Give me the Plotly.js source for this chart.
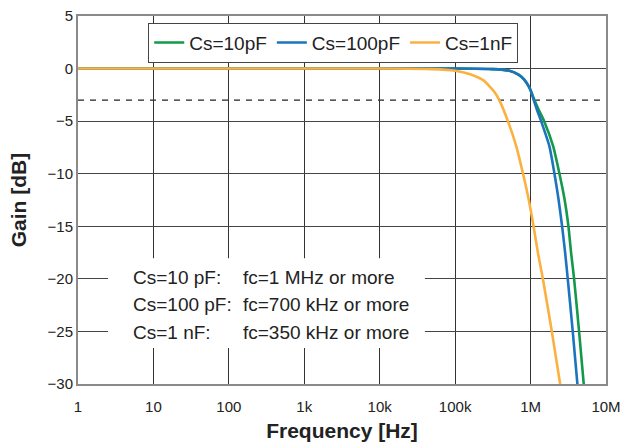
<!DOCTYPE html>
<html>
<head>
<meta charset="utf-8">
<script src="https://cdn.plot.ly/plotly-3.0.1.min.js"></script>
<style>html,body{margin:0;padding:0;background:#fff;}#chart{width:622px;height:447px;}</style>
</head>
<body>
<div id="chart"></div>
<script>
// Frequency [Hz] and gain [dB]
const freq10p  = [1, 10, 100, 1e3, 1e4, 1e5, 3.16e5, 5.25e5, 6.92e5, 8.24e5, 9.42e5, 1.03e6, 1.117e6, 1.276e6, 1.514e6, 1.995e6, 2.415e6, 2.818e6, 3.177e6, 3.443e6, 3.776e6, 4.395e6, 5.07e6];
const gain10p  = [0, 0, 0, 0, 0, 0, -0.05, -0.2, -0.57, -1.05, -1.68, -2.3, -2.95, -3.9, -5, -7.4, -10, -12.4, -15, -17.5, -20, -25, -30];
const freq100p = [1, 10, 100, 1e3, 1e4, 1e5, 3.16e5, 5.25e5, 6.92e5, 8.24e5, 9.42e5, 1.03e6, 1.096e6, 1.213e6, 1.38e6, 1.778e6, 2.075e6, 2.344e6, 2.618e6, 2.871e6, 3.112e6, 3.622e6, 4.178e6];
const gain100p = [0, 0, 0, 0, 0, 0, -0.05, -0.2, -0.57, -1.05, -1.68, -2.3, -2.95, -3.9, -5, -7.4, -10, -12.4, -15, -17.5, -20, -25, -30];
const freq1n   = [1, 10, 100, 1e3, 1e4, 5.0e4, 1.0e5, 1.58e5, 2.4e5, 3.3e5, 3.85e5, 5.01e5, 6.46e5, 7.94e5, 9.42e5, 1.096e6, 1.25e6, 1.455e6, 1.914e6, 2.466e6];
const gain1n   = [0, 0, 0, 0, 0, -0.05, -0.2, -0.55, -1.15, -2.2, -3.0, -5, -7.4, -10, -12.4, -15, -17.5, -20, -25, -30];
const seriesNames = ["Cs=10pF", "Cs=100pF", "Cs=1nF"];
const xTickVals = [1, 10, 100, 1e3, 1e4, 1e5, 1e6, 1e7];
const xTickText = ["1", "10", "100", "1k", "10k", "100k", "1M", "10M"];
const yTickVals = [5, 0, -5, -10, -15, -20, -25, -30];
const cutoffLevel = -3;
const noteLabels = ["Cs=10 pF:", "Cs=100 pF:", "Cs=1 nF:"];
const noteValues = ["fc=1 MHz or more", "fc=700 kHz or more", "fc=350 kHz or more"];

const FONT = "Liberation Sans, Arial, sans-serif";
const colors = ["#14984a", "#1b74bd", "#fbb040"];
const xs = [freq10p, freq100p, freq1n];
const ys = [gain10p, gain100p, gain1n];
const traces = xs.map((x, i) => ({
  x: x, y: ys[i], type: "scatter", mode: "lines", name: seriesNames[i],
  line: {color: colors[i], width: 2.6, shape: "spline", smoothing: 0.5}
}));

const noteTop = 0.289, noteStep = 0.074;
const annotations = [];
noteLabels.forEach((t, i) => {
  annotations.push({xref: "paper", yref: "paper", x: 0.1, y: noteTop - i * noteStep, xanchor: "left", yanchor: "middle",
    text: t, showarrow: false, font: {family: FONT, size: 19, color: "#222"}});
  annotations.push({xref: "paper", yref: "paper", x: 0.309, y: noteTop - i * noteStep, xanchor: "left", yanchor: "middle",
    text: noteValues[i], showarrow: false, font: {family: FONT, size: 19, color: "#222"}});
});

const layout = {
  width: 622, height: 447,
  margin: {l: 78, r: 16, t: 16, b: 63},
  paper_bgcolor: "#fff", plot_bgcolor: "#fff",
  showlegend: true,
  legend: {orientation: "h", x: 0.133, y: 0.982, xanchor: "left", yanchor: "top",
    bgcolor: "#fff", bordercolor: "#444", borderwidth: 1,
    font: {family: FONT, size: 19, color: "#222"}, itemwidth: 30, tracegroupgap: 0},
  xaxis: {type: "log", range: [0, 7], tickvals: xTickVals, ticktext: xTickText,
    showgrid: true, gridcolor: "#333", gridwidth: 1, zeroline: false,
    showline: true, linecolor: "#8a8a8a", linewidth: 2, mirror: true, ticks: "",
    ticklabelstandoff: 8,
    tickfont: {family: FONT, size: 15, color: "#222"},
    title: {text: "Frequency [Hz]", font: {family: FONT, size: 21, color: "#222", weight: "bold"}, standoff: 9}},
  yaxis: {range: [-30, 5], tickvals: yTickVals, showgrid: true, gridcolor: "#444", gridwidth: 1, zeroline: false,
    showline: true, linecolor: "#8a8a8a", linewidth: 2, mirror: true, ticks: "",
    tickfont: {family: FONT, size: 15, color: "#222"},
    title: {text: "Gain [dB]", font: {family: FONT, size: 21, color: "#222", weight: "bold"}, standoff: 15}},
  shapes: [
    {type: "line", xref: "paper", yref: "y", x0: 0, x1: 1, y0: cutoffLevel, y1: cutoffLevel,
      line: {color: "#222", width: 1.2, dash: "6px,6px"}, layer: "below"},
    {type: "rect", xref: "paper", yref: "paper", x0: 0.057, x1: 0.657, y0: 0.098, y1: 0.342,
      fillcolor: "#fff", line: {width: 0}, layer: "above"}
  ],
  annotations: annotations
};
Plotly.newPlot("chart", traces, layout, {displayModeBar: false, staticPlot: true});
</script>
</body>
</html>
